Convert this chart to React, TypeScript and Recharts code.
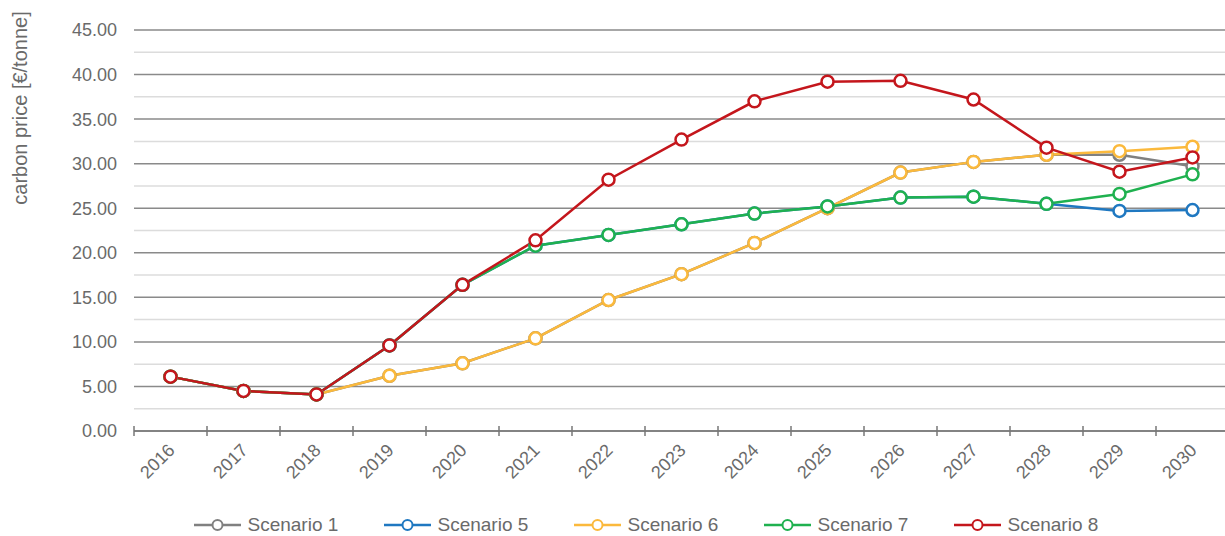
import React from 'react';
import {
  LineChart,
  Line,
  XAxis,
  YAxis,
  CartesianGrid,
  ReferenceLine,
  Legend,
} from 'recharts';

const years = ['2016', '2017', '2018', '2019', '2020', '2021', '2022', '2023', '2024', '2025', '2026', '2027', '2028', '2029', '2030'];

const scenario1 = [6.1, 4.5, 4.1, 6.2, 7.6, 10.4, 14.7, 17.6, 21.1, 25.0, 29.0, 30.2, 31.0, 31.0, 29.7];
const scenario5 = [6.1, 4.5, 4.1, 9.6, 16.4, 20.8, 22.0, 23.2, 24.4, 25.2, 26.2, 26.3, 25.5, 24.7, 24.8];
const scenario6 = [6.1, 4.5, 4.1, 6.2, 7.6, 10.4, 14.7, 17.6, 21.1, 25.0, 29.0, 30.2, 31.0, 31.4, 31.9];
const scenario7 = [6.1, 4.5, 4.1, 9.6, 16.4, 20.8, 22.0, 23.2, 24.4, 25.2, 26.2, 26.3, 25.5, 26.6, 28.8];
const scenario8 = [6.1, 4.5, 4.1, 9.6, 16.4, 21.4, 28.2, 32.7, 37.0, 39.2, 39.3, 37.2, 31.8, 29.1, 30.7];

const majorTicks = [0, 5, 10, 15, 20, 25, 30, 35, 40, 45];
const minorTicks = [2.5, 7.5, 12.5, 17.5, 22.5, 27.5, 32.5, 37.5, 42.5];

const series = [
  { key: 's1', name: 'Scenario 1', color: '#808080' },
  { key: 's5', name: 'Scenario 5', color: '#1f78c1' },
  { key: 's6', name: 'Scenario 6', color: '#fbb93c' },
  { key: 's7', name: 'Scenario 7', color: '#1fb14f' },
  { key: 's8', name: 'Scenario 8', color: '#c4161c' },
];

const data = years.map((year, i) => ({
  year,
  s1: scenario1[i],
  s5: scenario5[i],
  s6: scenario6[i],
  s7: scenario7[i],
  s8: scenario8[i],
}));

const FONT = '"Liberation Sans", Arial, sans-serif';
const TEXT = '#6a6a6a';

const XTick = (props: any) => {
  const { x, y, payload, index } = props;
  const half = payload.offset || 0;
  return (
    <g>
      <line x1={x - half} x2={x - half} y1={y - 5} y2={y + 5} stroke="#777" strokeWidth={1.5} />
      {index === years.length - 1 && (
        <line x1={x + half} x2={x + half} y1={y - 5} y2={y + 5} stroke="#777" strokeWidth={1.5} />
      )}
      <text
        x={x + 2}
        y={y + 17}
        transform={`rotate(-45, ${x + 2}, ${y + 17})`}
        textAnchor="end"
        dominantBaseline="middle"
        fill={TEXT}
        fontSize={18}
        fontFamily={FONT}
      >
        {payload.value}
      </text>
    </g>
  );
};

const YLabel = () => (
  <text
    x={22}
    y={108}
    transform="rotate(-90, 22, 108)"
    textAnchor="middle"
    dominantBaseline="middle"
    fill={TEXT}
    fontSize={20}
    fontFamily={FONT}
  >
    carbon price [€/tonne]
  </text>
);

const LegendContent = () => (
  <div
    style={{
      display: 'flex',
      justifyContent: 'center',
      boxSizing: 'border-box',
      width: 1225,
      paddingLeft: 112,
      fontFamily: FONT,
      fontSize: 19,
      color: TEXT,
    }}
  >
    {series.map((s) => (
      <div key={s.key} style={{ display: 'flex', alignItems: 'center', width: 190 }}>
        <svg width={47} height={14} style={{ marginRight: 7 }}>
          <line x1={0} x2={47} y1={7} y2={7} stroke={s.color} strokeWidth={2.5} />
          <circle cx={23.5} cy={7} r={5} fill="#fff" stroke={s.color} strokeWidth={2} />
        </svg>
        <span>{s.name}</span>
      </div>
    ))}
  </div>
);

export default function App() {
  return (
    <div style={{ position: 'fixed', left: 0, top: 0, width: 1225, height: 536, overflow: 'hidden', background: '#fff' }}>
      <LineChart width={1230} height={536} data={data} margin={{ top: 30, right: 1, left: 0, bottom: 0 }}>
        <CartesianGrid horizontal vertical={false} stroke="#8a8a8a" strokeWidth={1.5} />
        {minorTicks.map((t) => (
          <ReferenceLine key={t} y={t} stroke="#dcdcdc" strokeWidth={1.5} />
        ))}
        <XAxis
          dataKey="year"
          scale="band"
          height={83}
          tickLine={false}
          tickSize={0}
          tickMargin={0}
          axisLine={{ stroke: '#777', strokeWidth: 1.5 }}
          tick={<XTick />}
          interval={0}
        />
        <YAxis
          width={134}
          domain={[0, 45]}
          ticks={majorTicks}
          tickFormatter={(v: number) => v.toFixed(2)}
          axisLine={false}
          tickLine={false}
          tickMargin={11}
          tick={{ fill: TEXT, fontSize: 18, fontFamily: FONT }}
          label={<YLabel />}
        />
        <Legend verticalAlign="bottom" height={22} wrapperStyle={{ left: 0, width: 1225 }} content={<LegendContent />} />
        {series.map((s) => (
          <Line
            key={s.key}
            dataKey={s.key}
            name={s.name}
            stroke={s.color}
            strokeWidth={2.5}
            dot={{ r: 6, fill: '#fff', stroke: s.color, strokeWidth: 2.5 }}
            activeDot={false}
            isAnimationActive={false}
          />
        ))}
      </LineChart>
    </div>
  );
}
